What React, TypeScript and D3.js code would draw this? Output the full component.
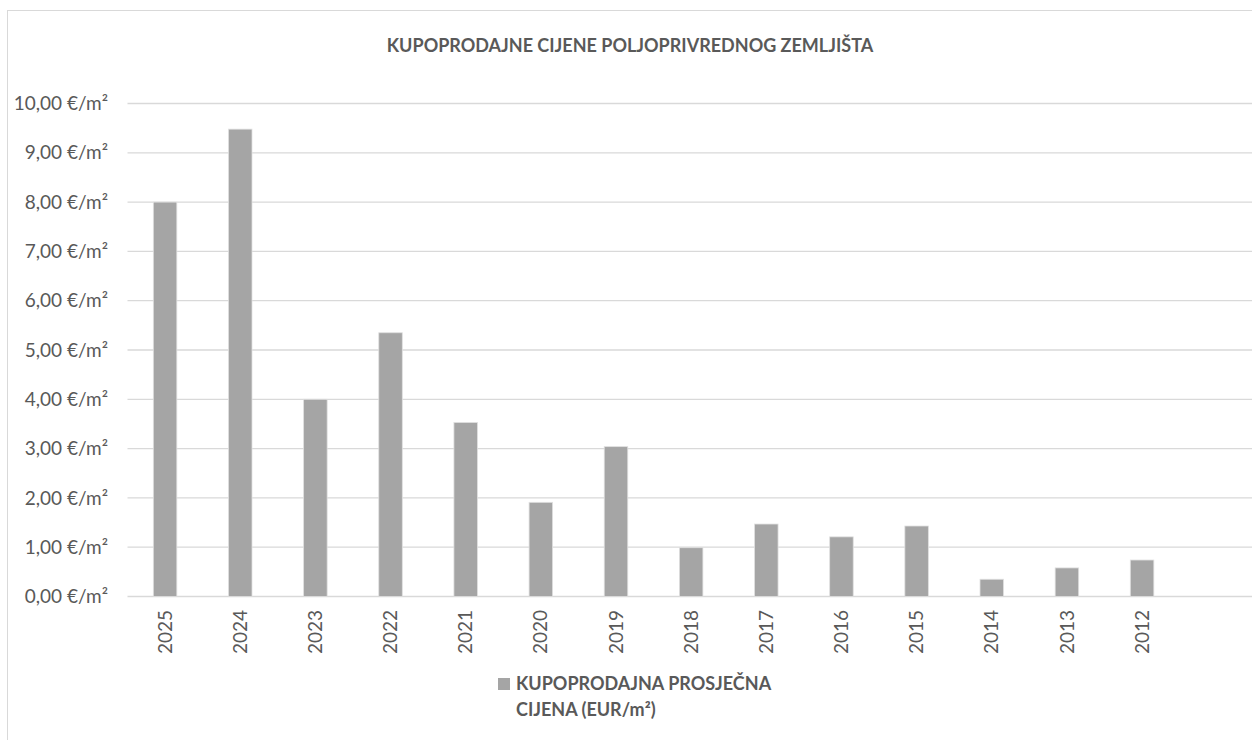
import React from "react";
import * as d3 from "d3";

const years = ["2025", "2024", "2023", "2022", "2021", "2020", "2019", "2018", "2017", "2016", "2015", "2014", "2013", "2012", ""];
const prices = [8.0, 9.48, 4.0, 5.35, 3.53, 1.91, 3.04, 0.99, 1.47, 1.21, 1.43, 0.35, 0.58, 0.74, null];
const yTicks = [0, 1, 2, 3, 4, 5, 6, 7, 8, 9, 10];
const title = "KUPOPRODAJNE CIJENE POLJOPRIVREDNOG ZEMLJIŠTA";
const legendLines = ["KUPOPRODAJNA PROSJEČNA", "CIJENA (EUR/m²)"];

const W = 1252;
const H = 740;
const FONT = "Lato, 'Open Sans', sans-serif";
const TEXT = "#595959";

export default function App() {
  const x = d3
    .scaleBand<string>()
    .domain(years.map((y, i) => y + "_" + i))
    .range([127.5, 1254.8])
    .paddingInner(0.687)
    .paddingOuter(0.3435);
  const y = d3.scaleLinear().domain([0, 10]).range([596.5, 103.5]);
  const fmt = (v: number) => v.toFixed(2).replace(".", ",") + " €/m²";

  return (
    <svg width={W} height={H} style={{ position: "absolute", left: 0, top: 0, background: "#fff" }}>
      <rect x={7.5} y={10.5} width={W + 20} height={H + 20} fill="#fff" stroke="#d9d9d9" strokeWidth={1} />
      <text x={630} y={52} textAnchor="middle" fontFamily={FONT} fontWeight={700} fontSize={18} fill={TEXT}>
        {title}
      </text>
      {yTicks.map((t) => (
        <g key={t}>
          <line x1={127.5} x2={W} y1={y(t)} y2={y(t)} stroke="#d9d9d9" strokeWidth={1.3} />
          <text x={108} y={y(t)} dy="0.35em" textAnchor="end" fontFamily={FONT} fontSize={19} fill={TEXT}>
            {fmt(t)}
          </text>
        </g>
      ))}
      {years.map((yr, i) => {
        const v = prices[i];
        const key = yr + "_" + i;
        const bx = x(key) as number;
        return (
          <g key={key}>
            {v != null && (
              <rect
                x={bx}
                y={y(v)}
                width={x.bandwidth()}
                height={y(0) - y(v)}
                fill="#a5a5a5"
                stroke="#e0e0e0"
                strokeWidth={0.8}
              />
            )}
            {yr && (
              <text
                transform={`translate(${bx + x.bandwidth() / 2},610) rotate(-90)`}
                textAnchor="end"
                dy="0.35em"
                fontFamily={FONT}
                fontSize={19}
                fill={TEXT}
              >
                {yr}
              </text>
            )}
          </g>
        );
      })}
      <rect x={498} y={678} width={12} height={12} fill="#a5a5a5" />
      {legendLines.map((l, i) => (
        <text key={i} x={516} y={690 + i * 26} fontFamily={FONT} fontWeight={700} fontSize={18} fill={TEXT}>
          {l}
        </text>
      ))}
    </svg>
  );
}
